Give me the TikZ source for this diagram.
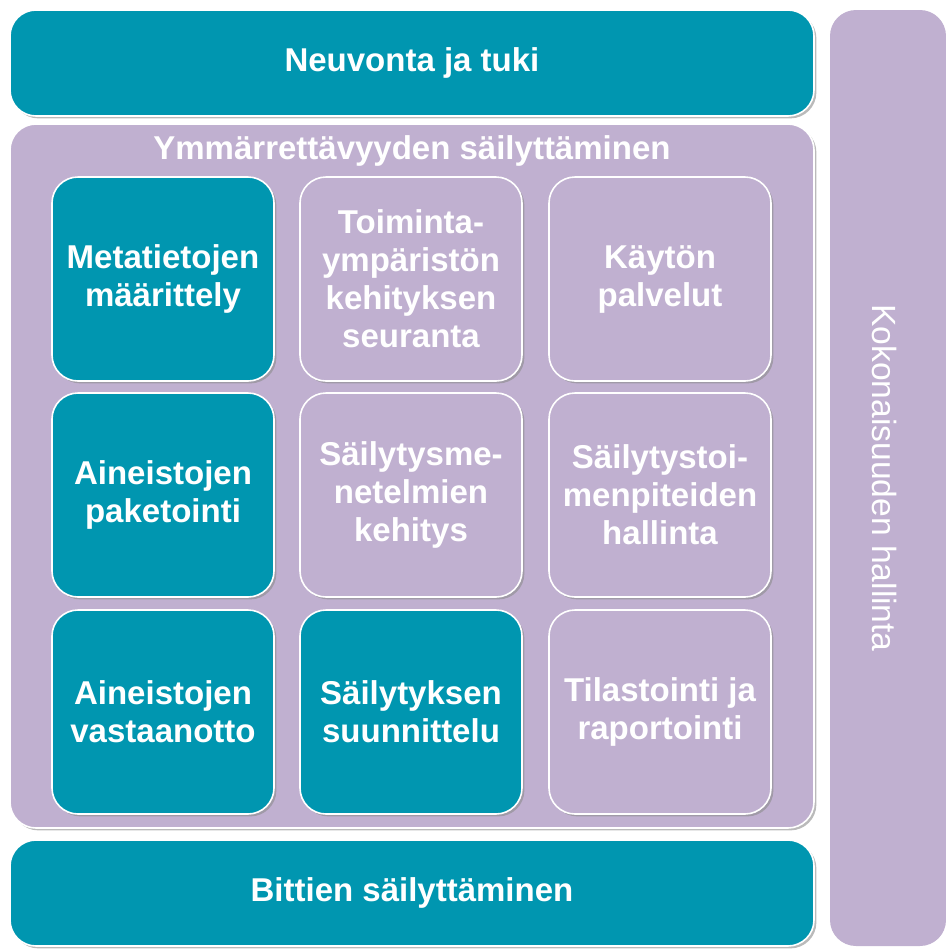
\documentclass[tikz,border=0pt]{standalone}
\usepackage{fontspec}
\setmainfont{Liberation Sans}
\usetikzlibrary{shadows}

\definecolor{teal}{RGB}{0,150,176}
\definecolor{lila}{RGB}{192,176,208}

\begin{document}
\begin{tikzpicture}[x=0.5pt, y=-0.5pt,
  every node/.style={inner sep=0pt, text=white, align=center,
    font=\bfseries\fontsize{16.5}{19}\selectfont},
  box/.style={rounded corners=13pt, draw=white, line width=0.8pt,
    drop shadow={shadow xshift=1.2pt, shadow yshift=-1.2pt, fill=black!45, opacity=0.6}},
  bar/.style={box, fill=teal, minimum width=402pt, minimum height=53pt},
  cell/.style={box, minimum width=111pt, minimum height=102pt},
  tealcell/.style={cell, fill=teal},
  lilacell/.style={cell, fill=lila}]
  \useasboundingbox (0,0) rectangle (946,949);

  % Outer frame
  \node (neuvonta) at (412,63) [bar]{Neuvonta ja tuki};
  \node (ymmarr) at (412,476) [box, fill=lila, minimum width=402pt, minimum height=352pt]{};
  \node (bittien) at (412,893) [bar]{Bittien säilyttäminen};
  \node (kokonais) at (888,478) [rounded corners=13pt, fill=lila, minimum width=58pt, minimum height=468pt]{};
  \node (kokotext) at (885,478) [rotate=-90, font=\fontsize{16.8}{19}\selectfont]{Kokonaisuuden hallinta};
  \node (otsikko) at (412,151) {Ymmärrettävyyden säilyttäminen};

  % Row 1
  \node (meta) at (163,279) [tealcell]{Metatietojen\\määrittely};
  \node (toim) at (411,279) [lilacell]{Toiminta-\\ympäristön\\kehityksen\\seuranta};
  \node (kayt) at (660,279) [lilacell]{Käytön\\palvelut};
  % Row 2
  \node (paket) at (163,495) [tealcell]{Aineistojen\\paketointi};
  \node (menet) at (411,495) [lilacell]{Säilytysme-\\netelmien\\kehitys};
  \node (toimen) at (660,495) [lilacell]{Säilytystoi-\\menpiteiden\\hallinta};
  % Row 3
  \node (vast) at (163,712) [tealcell]{Aineistojen\\vastaanotto};
  \node (suunn) at (411,712) [tealcell]{Säilytyksen\\suunnittelu};
  \node (tilast) at (660,712) [lilacell]{Tilastointi ja\\raportointi};
\end{tikzpicture}
\end{document}
